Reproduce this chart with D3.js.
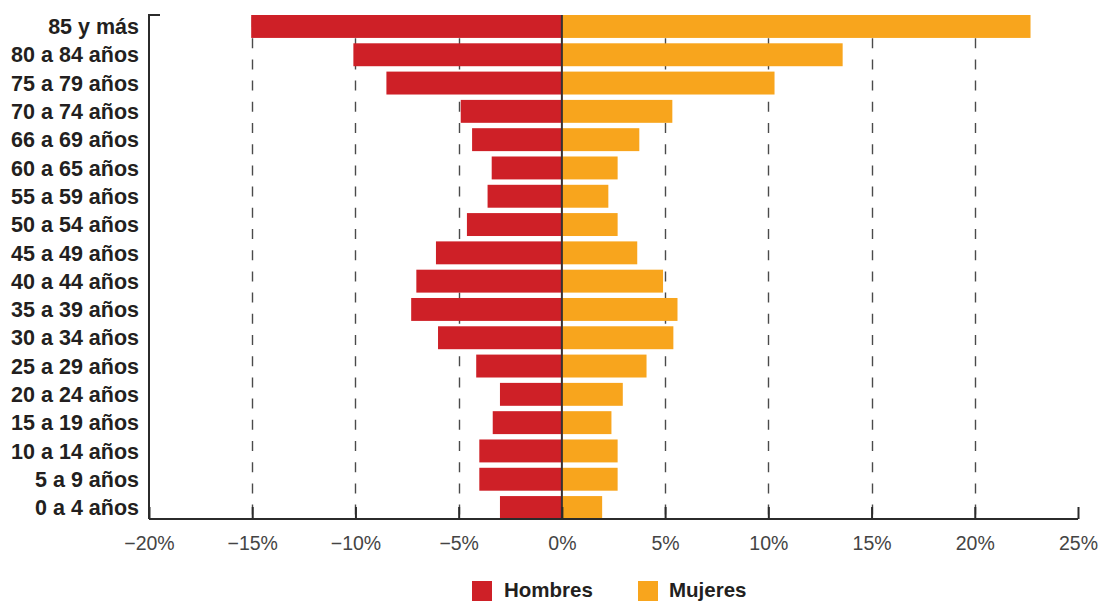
<!DOCTYPE html>
<html>
<head>
<meta charset="utf-8">
<script src="https://cdn.jsdelivr.net/npm/d3@7"></script>
<style>
  body { margin: 0; background: #fff; }
  svg { font-family: "Liberation Sans", Arial, Helvetica, sans-serif; }
</style>
</head>
<body>
<div id="chart"></div>
<script>
var ageGroups = ["85 y más", "80 a 84 años", "75 a 79 años", "70 a 74 años", "66 a 69 años",
  "60 a 65 años", "55 a 59 años", "50 a 54 años", "45 a 49 años", "40 a 44 años",
  "35 a 39 años", "30 a 34 años", "25 a 29 años", "20 a 24 años", "15 a 19 años",
  "10 a 14 años", "5 a 9 años", "0 a 4 años"];

// percentages, men shown to the left
var hombres = [15.05, 10.1, 8.5, 4.9, 4.35, 3.4, 3.6, 4.6, 6.1, 7.05, 7.3, 6.0, 4.15, 3.0, 3.35, 4.0, 4.0, 3.0];
var mujeres = [22.7, 13.6, 10.3, 5.35, 3.75, 2.7, 2.25, 2.7, 3.65, 4.9, 5.6, 5.4, 4.1, 2.95, 2.4, 2.7, 2.7, 1.95];

var tickValues = [-20, -15, -10, -5, 0, 5, 10, 15, 20, 25];
var seriesNames = ["Hombres", "Mujeres"];

var width = 1101, height = 602;
var margin = { top: 15, right: 23, bottom: 83, left: 149 };

var colorHombres = "#ce2027",
  colorMujeres = "#f8a51d";

var svg = d3.select("#chart").append("svg")
  .attr("width", width)
  .attr("height", height);

var x = d3.scaleLinear()
  .domain([-20, 25])
  .range([margin.left, width - margin.right]);

var y = d3.scaleBand()
  .domain(ageGroups)
  .range([margin.top, height - margin.bottom])
  .paddingInner(0.19)
  .paddingOuter(0);

var axisY = height - margin.bottom;

// dashed grid lines
svg.append("g").selectAll("line")
  .data(tickValues.filter(function(d) { return d != 0 && d != -20 && d != 25; }))
  .enter().append("line")
  .attr("x1", function(d) { return Math.round(x(d)) + 0.5; })
  .attr("x2", function(d) { return Math.round(x(d)) + 0.5; })
  .attr("y1", margin.top + 2)
  .attr("y2", axisY)
  .attr("stroke", "#4a4a4a")
  .attr("stroke-width", 1.4)
  .attr("stroke-dasharray", "10,11.2");

// bars
svg.append("g").selectAll("rect")
  .data(ageGroups)
  .enter().append("rect")
  .attr("x", function(d, i) { return x(-hombres[i]); })
  .attr("y", function(d) { return y(d); })
  .attr("width", function(d, i) { return x(0) - x(-hombres[i]); })
  .attr("height", y.bandwidth())
  .attr("fill", colorHombres);

svg.append("g").selectAll("rect")
  .data(ageGroups)
  .enter().append("rect")
  .attr("x", x(0))
  .attr("y", function(d) { return y(d); })
  .attr("width", function(d, i) { return x(mujeres[i]) - x(0); })
  .attr("height", y.bandwidth())
  .attr("fill", colorMujeres);

// zero line
svg.append("line")
  .attr("x1", x(0)).attr("x2", x(0))
  .attr("y1", margin.top).attr("y2", axisY)
  .attr("stroke", "#3a3030")
  .attr("stroke-width", 2);

// x axis
var xAxis = d3.axisBottom(x)
  .tickValues(tickValues)
  .tickSize(-12)
  .tickPadding(17)
  .tickFormat(function(d) { return (d < 0 ? "\u2212" + (-d) : d) + "%"; });

var gx = svg.append("g")
  .attr("transform", "translate(0," + axisY + ")")
  .call(xAxis);
gx.select(".domain").attr("stroke", "#2b2b2b").attr("stroke-width", 2)
  .attr("d", "M" + x(-20) + ",0H" + x(25));
gx.selectAll(".tick line").attr("stroke", "#2b2b2b").attr("stroke-width", 2);
gx.selectAll(".tick text")
  .attr("fill", "#444")
  .style("font-size", "19.5px")
  .attr("dy", "0.72em");

// y axis with bracket at top
svg.append("path")
  .attr("d", "M" + (margin.left + 11) + "," + margin.top + "H" + margin.left + "V" + axisY)
  .attr("fill", "none")
  .attr("stroke", "#2b2b2b")
  .attr("stroke-width", 2);

svg.append("g").selectAll("text")
  .data(ageGroups)
  .enter().append("text")
  .attr("x", 139)
  .attr("y", function(d) { return y(d) + y.bandwidth() / 2; })
  .attr("dy", "0.36em")
  .attr("text-anchor", "end")
  .attr("fill", "#231f20")
  .style("font-size", "21.5px")
  .style("font-weight", "bold")
  .text(function(d) { return d; });

// legend
var legendX = [472, 638];
var legendColors = [colorHombres, colorMujeres];
var legend = svg.append("g").selectAll("g")
  .data(seriesNames)
  .enter().append("g")
  .attr("transform", function(d, i) { return "translate(" + legendX[i] + ",581)"; });

legend.append("rect")
  .attr("width", 20)
  .attr("height", 20)
  .attr("fill", function(d, i) { return legendColors[i]; });

legend.append("text")
  .attr("x", function(d, i) { return i == 0 ? 32 : 31; })
  .attr("y", 16)
  .attr("fill", "#231f20")
  .style("font-size", "20.5px")
  .style("font-weight", "bold")
  .text(function(d) { return d; });
</script>
</body>
</html>
